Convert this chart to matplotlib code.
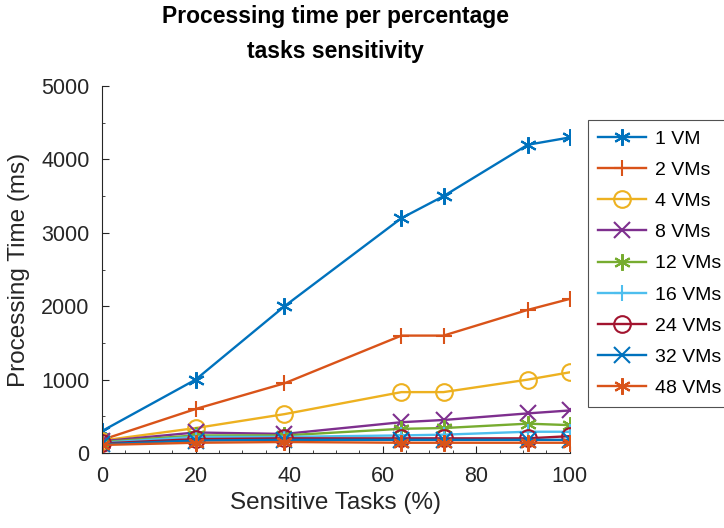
import matplotlib
matplotlib.use("Agg")
import matplotlib.pyplot as plt
from matplotlib.ticker import MultipleLocator

plt.rcParams['font.family'] = ['Liberation Sans', 'DejaVu Sans']

sensitive_pct = [0, 20, 39, 64, 73, 91, 100]

vm_1 = [300, 1000, 2000, 3200, 3500, 4200, 4300]
vm_2 = [180, 600, 950, 1600, 1600, 1950, 2100]
vm_4 = [170, 340, 530, 830, 830, 1000, 1100]
vm_8 = [160, 280, 260, 420, 450, 540, 580]
vm_12 = [150, 240, 240, 330, 340, 400, 380]
vm_16 = [140, 220, 220, 240, 250, 290, 290]
vm_24 = [130, 190, 200, 200, 200, 200, 230]
vm_32 = [120, 170, 180, 180, 180, 180, 180]
vm_48 = [110, 140, 150, 140, 140, 140, 140]

series_labels = ['1 VM', '2 VMs', '4 VMs', '8 VMs', '12 VMs',
                 '16 VMs', '24 VMs', '32 VMs', '48 VMs']
series_values = [vm_1, vm_2, vm_4, vm_8, vm_12, vm_16, vm_24, vm_32, vm_48]

asterisk = (6, 2, 0)
colors = ['#0072BD', '#D95319', '#EDB120', '#7E2F8E', '#77AC30',
          '#4DBEEE', '#A2142F', '#0072BD', '#D95319']
markers = [asterisk, '+', 'o', 'x', asterisk, '+', 'o', 'x', asterisk]

fig = plt.figure(figsize=(7.24, 5.28), dpi=100)
ax = fig.add_axes([0.141, 0.142, 0.646, 0.695])

for label, vals, c, m in zip(series_labels, series_values, colors, markers):
    ax.plot(sensitive_pct, vals, color=c, marker=m, markersize=12,
            markerfacecolor='none', markeredgewidth=1.5, linewidth=1.7,
            label=label)

ax.set_xlim(0, 100)
ax.set_ylim(0, 5000)
ax.set_xticks([0, 20, 40, 60, 80, 100])
ax.set_yticks([0, 1000, 2000, 3000, 4000, 5000])
ax.xaxis.set_minor_locator(MultipleLocator(5))
ax.yaxis.set_minor_locator(MultipleLocator(500))
ax.tick_params(direction='in', which='both', labelsize=15.5, colors='#262626',
               pad=9)
ax.tick_params(which='major', length=5, width=0.8)
ax.tick_params(which='minor', length=2.5, width=0.6)
for side in ('top', 'right'):
    ax.spines[side].set_visible(False)
for side in ('left', 'bottom'):
    ax.spines[side].set_color('#262626')
    ax.spines[side].set_linewidth(0.8)

ax.set_xlabel('Sensitive Tasks (%)', fontsize=17.5, color='#262626', labelpad=4)
ax.set_ylabel('Processing Time (ms)', fontsize=17.5, color='#262626', labelpad=8)

fig.text(0.464, 0.99, 'Processing time per percentage\ntasks sensitivity',
         ha='center', va='top', fontsize=16.5, fontweight='bold',
         linespacing=1.65)

leg = ax.legend(loc='upper left', bbox_to_anchor=(1.0385, 0.907),
                fontsize=14, frameon=True, fancybox=False, handlelength=2.5,
                labelspacing=0.7, borderpad=0.5, handletextpad=0.45,
                borderaxespad=0)
leg.get_frame().set_edgecolor('#262626')
leg.get_frame().set_linewidth(0.8)

fig.savefig('out.png', dpi=100)
